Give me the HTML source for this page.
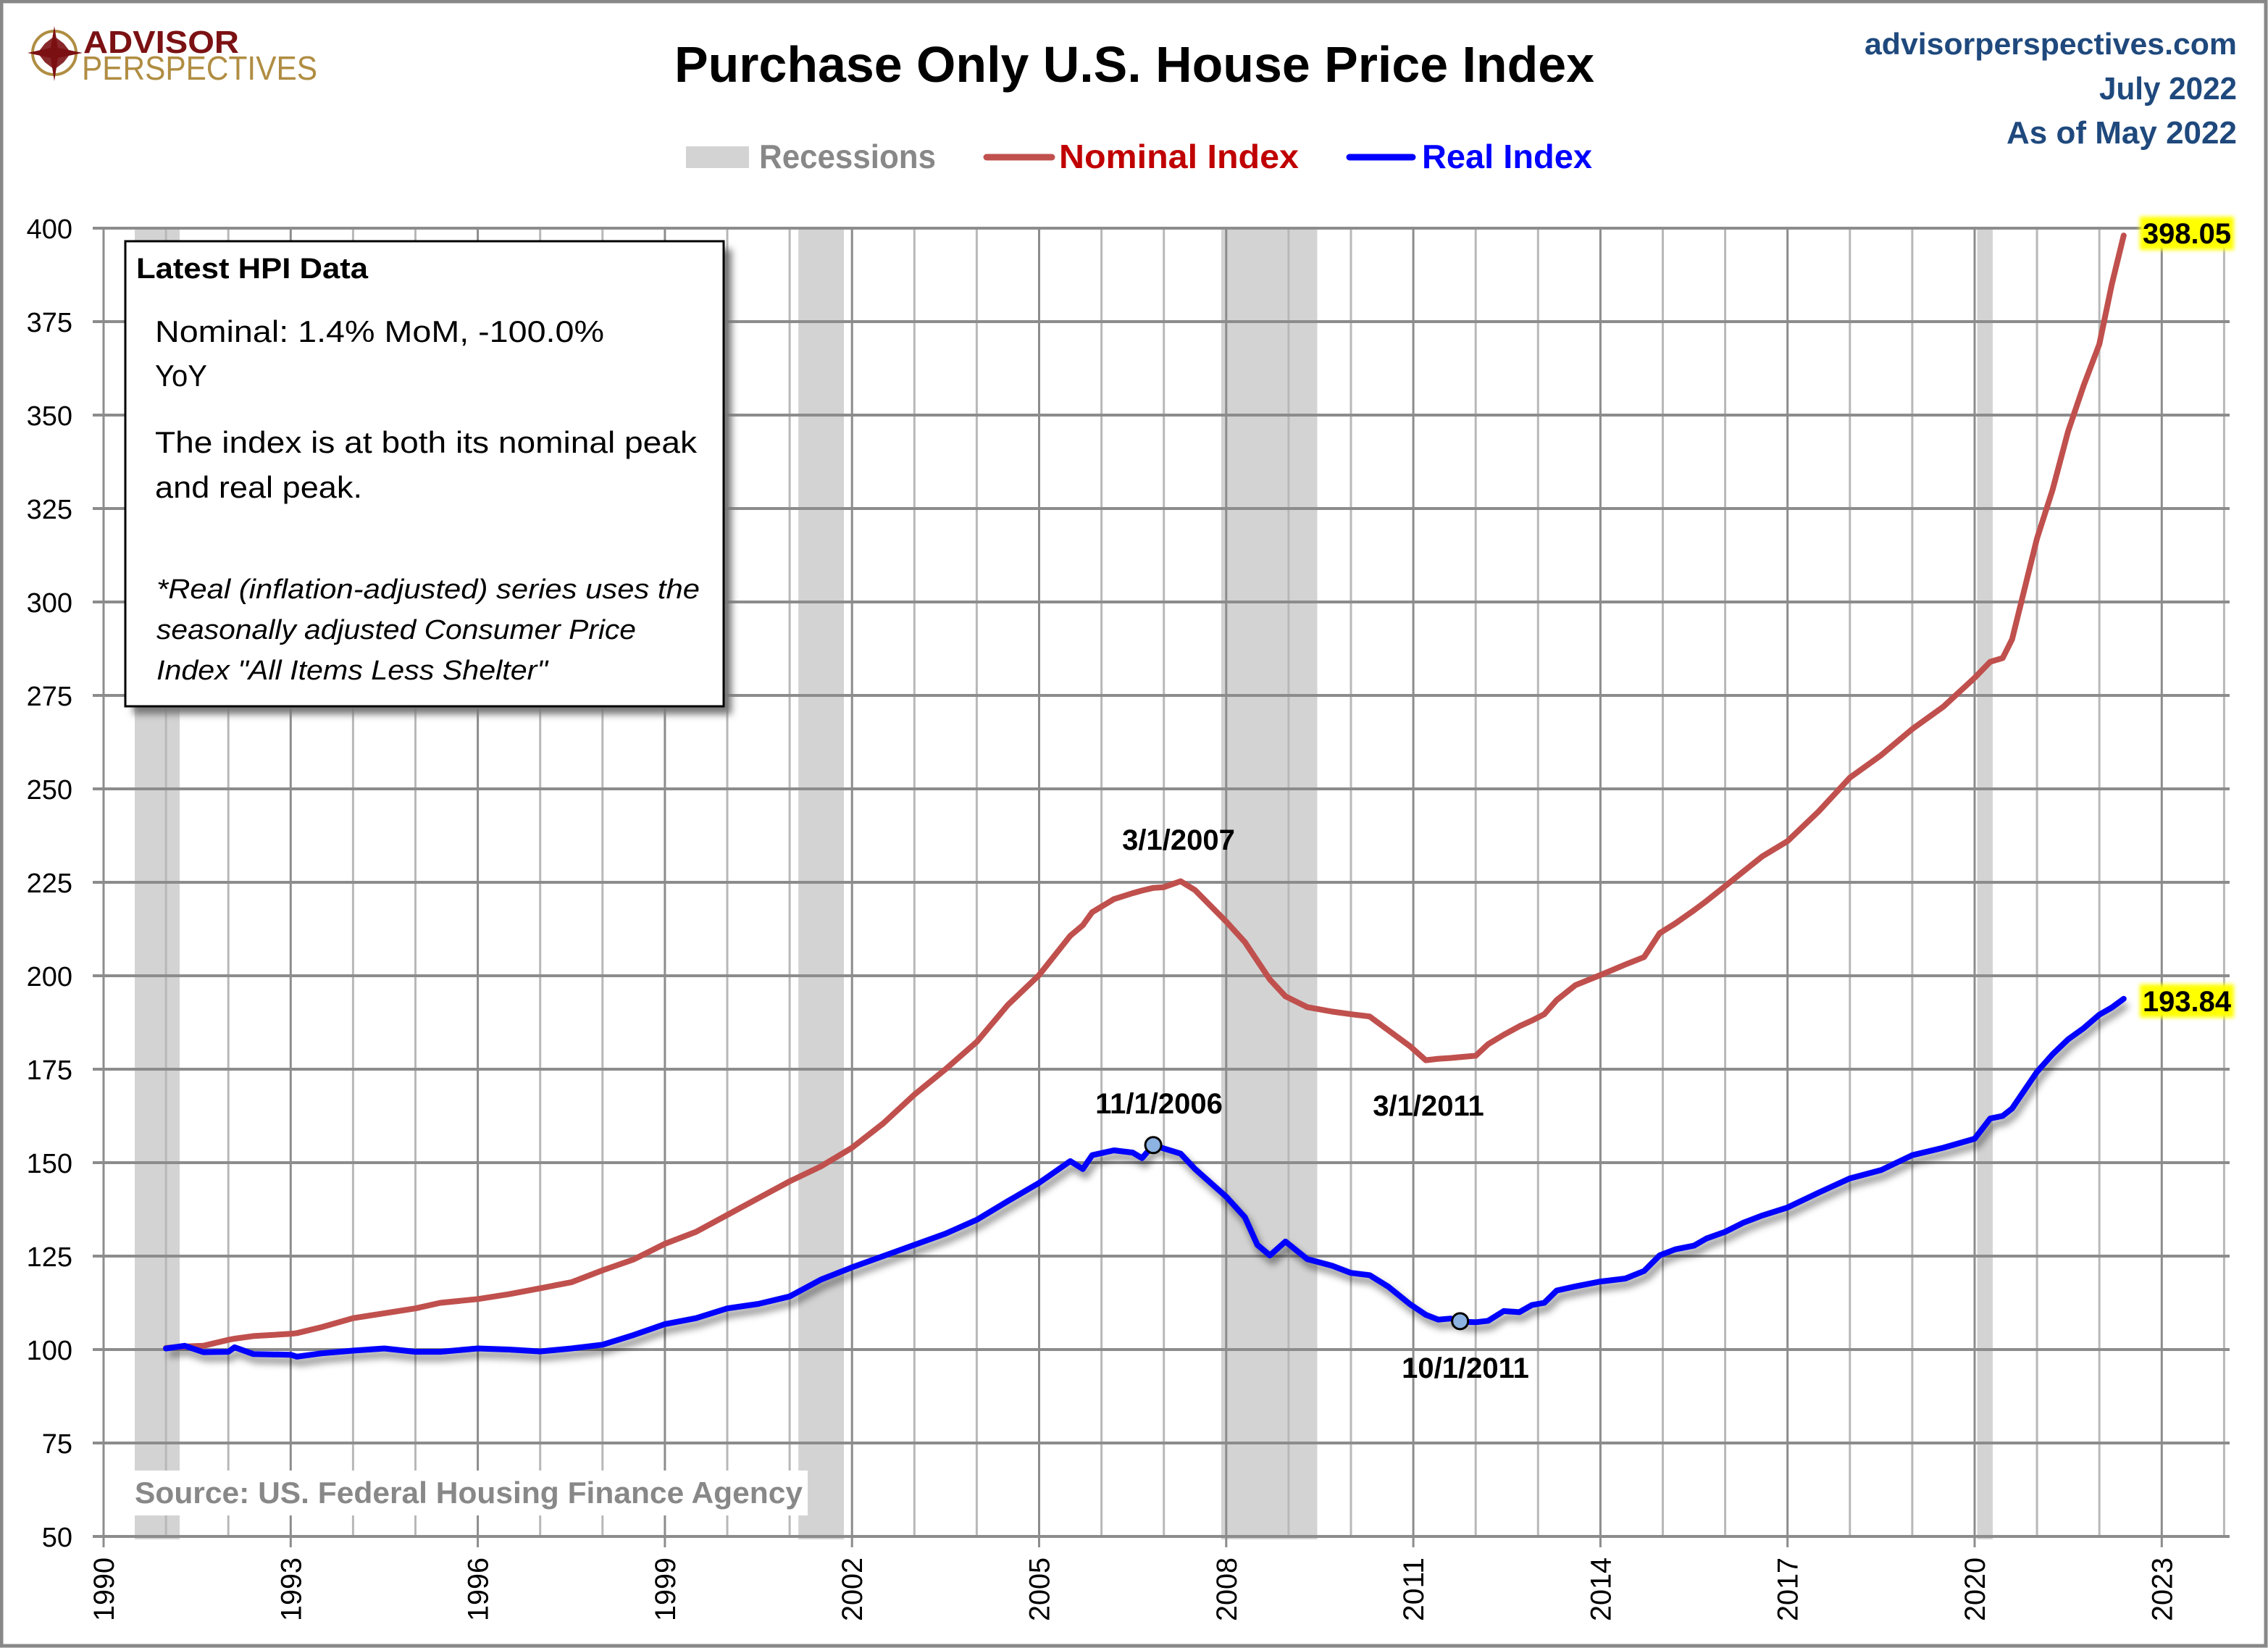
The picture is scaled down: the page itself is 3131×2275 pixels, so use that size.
<!DOCTYPE html>
<html><head><meta charset="utf-8"><style>
html,body{margin:0;padding:0;background:#fff}
svg{display:block}
text{font-family:"Liberation Sans",sans-serif}
</style></head><body>
<svg id="chart" xmlns="http://www.w3.org/2000/svg" width="3131" height="2275" viewBox="0 0 3131 2275">
<defs>
<filter id="sh" x="-10%" y="-10%" width="130%" height="130%"><feGaussianBlur stdDeviation="5"/></filter>
<filter id="yl" x="-10%" y="-30%" width="120%" height="160%"><feGaussianBlur stdDeviation="3"/></filter>
</defs>
<rect x="2" y="2" width="3126" height="2270" fill="#fff" stroke="#888" stroke-width="5"/>
<g id="rec"></g>
<g id="gridv"></g>
<g id="gridh"></g>
<g id="yaxis"></g>
<g id="xaxis"></g>
<g id="series"></g>

<g>
 <circle cx="75" cy="73" r="30" fill="none" stroke="#b08d42" stroke-width="4"/>
 <polygon points="75,36 80,66 114,73 80,80 75,112 70,80 38,73 70,66" fill="#7b1113"/>
 <polygon points="75,50 88,60 98,73 88,86 75,96 62,86 52,73 62,60" fill="#7b1113" opacity="0.9"/>
 <text x="115" y="73" font-size="44" font-weight="bold" fill="#7b1113" textLength="215" lengthAdjust="spacingAndGlyphs">ADVISOR</text>
 <text x="113" y="110" font-size="46" fill="#b08d42" textLength="325" lengthAdjust="spacingAndGlyphs">PERSPECTIVES</text>
</g>
<text x="931" y="113" font-size="70" font-weight="bold" fill="#000" textLength="1270" lengthAdjust="spacingAndGlyphs">Purchase Only U.S. House Price Index</text>
<text x="3088" y="75" text-anchor="end" font-size="42" font-weight="bold" fill="#1f497d" textLength="514" lengthAdjust="spacingAndGlyphs">advisorperspectives.com</text>
<text x="3088" y="137" text-anchor="end" font-size="44" font-weight="bold" fill="#1f497d" textLength="190" lengthAdjust="spacingAndGlyphs">July 2022</text>
<text x="3088" y="198" text-anchor="end" font-size="44" font-weight="bold" fill="#1f497d" textLength="318" lengthAdjust="spacingAndGlyphs">As of May 2022</text>

<g>
 <rect x="947" y="202" width="87" height="30" fill="#d3d3d3"/>
 <text x="1048" y="232" font-size="46" font-weight="bold" fill="#888" textLength="244" lengthAdjust="spacingAndGlyphs">Recessions</text>
 <line x1="1362" y1="217" x2="1452" y2="217" stroke="#c0504d" stroke-width="9" stroke-linecap="round"/>
 <text x="1462" y="232" font-size="46" font-weight="bold" fill="#c00000" textLength="331" lengthAdjust="spacingAndGlyphs">Nominal Index</text>
 <line x1="1863" y1="217" x2="1950" y2="217" stroke="#0000ff" stroke-width="9" stroke-linecap="round"/>
 <text x="1963" y="232" font-size="46" font-weight="bold" fill="#0000ff" textLength="235" lengthAdjust="spacingAndGlyphs">Real Index</text>
</g>

<g>
 <rect x="184" y="344" width="826" height="642" fill="#777" filter="url(#sh)"/>
 <rect x="173" y="333" width="826" height="642" fill="#fff" stroke="#000" stroke-width="3"/>
 <text x="188" y="384" font-size="40" font-weight="bold" textLength="320" lengthAdjust="spacingAndGlyphs">Latest HPI Data</text>
 <text x="214" y="472" font-size="42" textLength="620" lengthAdjust="spacingAndGlyphs">Nominal:  1.4% MoM, -100.0%</text>
 <text x="214" y="533" font-size="42" textLength="72" lengthAdjust="spacingAndGlyphs">YoY</text>
 <text x="214" y="625" font-size="42" textLength="748" lengthAdjust="spacingAndGlyphs">The index is at both its nominal peak</text>
 <text x="214" y="687" font-size="42" textLength="286" lengthAdjust="spacingAndGlyphs">and real peak.</text>
 <text x="216" y="826" font-size="38" font-style="italic" textLength="750" lengthAdjust="spacingAndGlyphs">*Real (inflation-adjusted) series uses the</text>
 <text x="216" y="882" font-size="38" font-style="italic" textLength="662" lengthAdjust="spacingAndGlyphs">seasonally adjusted Consumer Price</text>
 <text x="216" y="938" font-size="38" font-style="italic" textLength="540" lengthAdjust="spacingAndGlyphs">Index "All Items Less Shelter"</text>
</g>

<rect x="184" y="2030" width="931" height="62" fill="#fff"/>
<text x="186" y="2075" font-size="42" font-weight="bold" fill="#888" textLength="922" lengthAdjust="spacingAndGlyphs">Source: US. Federal Housing Finance Agency</text>
<g id="annot"></g>
</svg>
<script>
const NS='http://www.w3.org/2000/svg';
const years=[1991.0,1991.3,1991.6,1992.0,1992.1,1992.4,1993.0,1993.1,1993.5,1994.0,1994.5,1995.0,1995.4,1996.0,1996.5,1997.0,1997.5,1998.0,1998.5,1999.0,1999.5,2000.0,2000.5,2001.0,2001.5,2002.0,2002.5,2003.0,2003.5,2004.0,2004.5,2005.0,2005.5,2005.7,2005.85,2006.2,2006.5,2006.65,2006.83,2007.0,2007.27,2007.5,2008.0,2008.3,2008.5,2008.7,2008.95,2009.3,2009.7,2010.0,2010.3,2010.6,2010.95,2011.2,2011.4,2011.6,2011.79,2012.0,2012.2,2012.45,2012.7,2012.9,2013.1,2013.3,2013.6,2014.0,2014.4,2014.7,2014.95,2015.2,2015.5,2015.7,2016.0,2016.3,2016.6,2017.0,2017.5,2018.0,2018.5,2019.0,2019.5,2020.0,2020.25,2020.45,2020.6,2021.0,2021.25,2021.5,2021.75,2022.0,2022.2,2022.39];
const nominal=[100.4,100.8,101.0,102.6,102.9,103.6,104.2,104.4,106.0,108.4,109.7,111.0,112.5,113.5,114.8,116.4,118.0,121.2,124.1,128.3,131.5,136.0,140.5,145.0,149.0,154.0,160.5,168.2,175.0,182.3,192.2,200.2,210.7,213.5,217.0,220.5,222.1,222.8,223.5,223.7,225.3,222.9,214.5,209.0,204.0,199.0,194.5,191.6,190.4,189.7,189.1,185.4,181.1,177.4,177.8,178.0,178.3,178.6,181.7,184.2,186.5,188.0,189.7,193.5,197.5,200.2,203.0,205.0,211.4,214.0,217.5,220.0,224.0,228.0,232.0,236.0,244.0,253.0,259.0,266.0,272.0,279.7,284.0,285.0,290.0,317.0,330.0,345.7,358.0,369.0,385.0,398.05];
const real=[100.3,101.0,99.3,99.4,100.6,98.8,98.6,98.1,99.0,99.7,100.3,99.4,99.4,100.3,100.0,99.5,100.3,101.3,103.9,106.8,108.4,111.0,112.2,114.2,118.7,122.0,125.0,128.0,131.0,134.7,139.7,144.6,150.4,148.3,152.0,153.3,152.7,151.2,154.7,153.8,152.4,148.3,140.9,135.4,128.0,125.2,128.9,124.2,122.4,120.5,119.9,116.8,112.1,109.3,108.0,108.3,107.4,107.3,107.7,110.3,110.0,111.9,112.5,115.8,116.9,118.2,119.0,121.0,125.2,126.8,127.8,129.7,131.5,134.0,135.9,138.0,142.0,145.8,148.0,152.0,154.0,156.4,161.8,162.5,164.5,174.3,179.0,183.0,186.0,189.6,191.5,193.84];
const recStart=[1990.5,2001.14,2007.92,2020.04];
const recEnd=[1991.22,2001.87,2009.46,2020.29];
const yTicks=[50,75,100,125,150,175,200,225,250,275,300,325,350,375,400];
const xTickYears=[1990,1993,1996,1999,2002,2005,2008,2011,2014,2017,2020,2023];
const annLabels=['3/1/2007','11/1/2006','3/1/2011','10/1/2011'];
const annYears=[2007.17,2006.83,2011.17,2011.75];

const L=128,R=3078,T=315,B=2121;
const xs=y=>143+(y-1990)*86.1;
const ys=v=>B-(v-50)*(B-T)/350;
function mk(tag,attrs,parent){const e=document.createElementNS(NS,tag);for(const k in attrs)e.setAttribute(k,attrs[k]);parent.appendChild(e);return e;}
const gv=document.getElementById('gridv'),gh=document.getElementById('gridh'),rg=document.getElementById('rec');
const ya=document.getElementById('yaxis'),xa=document.getElementById('xaxis'),sg=document.getElementById('series'),an=document.getElementById('annot');

for(let i=0;i<recStart.length;i++){
 const r=mk('rect',{x:xs(recStart[i]),y:T,width:xs(recEnd[i])-xs(recStart[i]),height:B-T+4,fill:'#d3d3d3'},rg);
 
 
}
for(let yr=1990;yr<=2024;yr++){
 const major=(yr-1990)%3===0;
 const l=mk('line',{x1:xs(yr),x2:xs(yr),y1:T,y2:B,stroke:major?'#8c8c8c':'#b8b8b8','stroke-width':3},gv);
 
 
}
yTicks.forEach(v=>{
 const l=mk('line',{x1:L,x2:R,y1:ys(v),y2:ys(v),stroke:'#8c8c8c','stroke-width':4},gh);
 
 
 const t=mk('text',{x:100,y:ys(v)+14,'text-anchor':'end','font-size':38,fill:'#000'},ya);
 t.textContent=String(v);
 
 
});
xTickYears.forEach(yr=>{
 const tk=mk('line',{x1:xs(yr),x2:xs(yr),y1:B,y2:B+15,stroke:'#8c8c8c','stroke-width':3},xa);
 
 
 const t=mk('text',{x:0,y:0,'text-anchor':'end','font-size':40,'font-family':'DejaVu Sans, sans-serif',fill:'#000',transform:`translate(${xs(yr)+14},2150) rotate(-90)`,textLength:88,lengthAdjust:'spacingAndGlyphs'},xa);
 t.textContent=String(yr);
 
 
});
function pathFor(arr){return arr.map((v,i)=>(i?'L':'M')+xs(years[i]).toFixed(1)+' '+ys(v).toFixed(1)).join(' ');}
const shadow=mk('path',{d:pathFor(real),fill:'none',stroke:'#000','stroke-opacity':0.45,'stroke-width':9,filter:'url(#sh)',transform:'translate(4,8)'},sg);


const np=mk('path',{d:pathFor(nominal),fill:'none',stroke:'#c0504d','stroke-width':8,'stroke-linejoin':'round','stroke-linecap':'round'},sg);


const rp=mk('path',{d:pathFor(real),fill:'none',stroke:'#0000ff','stroke-width':8,'stroke-linejoin':'round','stroke-linecap':'round'},sg);



function valAt(arr,yr){for(let i=1;i<years.length;i++){if(years[i]>=yr){const f=(yr-years[i-1])/(years[i]-years[i-1]);return arr[i-1]+f*(arr[i]-arr[i-1]);}}return arr[arr.length-1];}
[1,3].forEach(k=>{
 const c=mk('circle',{cx:xs(annYears[k]),cy:ys(valAt(real,annYears[k])),r:11,fill:'#8db3e2',stroke:'#000','stroke-width':3},an);
 
 
});
const annPos=[[1627,1173],[1600,1537],[1972,1540],[2023,1902]];
annLabels.forEach((s,i)=>{
 const t=mk('text',{x:annPos[i][0],y:annPos[i][1],'text-anchor':'middle','font-size':40,'font-weight':'bold',fill:'#000'},an);
 t.textContent=s;
 
 
});
const lastN=nominal[nominal.length-1],lastR=real[real.length-1];
[[lastN,ys(lastN)-4],[lastR,ys(lastR)+2]].forEach(p=>{
 const bg=mk('rect',{x:2954,y:p[1]-22,width:130,height:46,fill:'#ffff00',filter:'url(#yl)'},an);
 
 
 const t=mk('text',{x:2958,y:p[1]+15,'font-size':40,'font-weight':'bold',fill:'#000',textLength:122,lengthAdjust:'spacingAndGlyphs'},an);
 t.textContent=p[0].toFixed(2);
 
 
});
</script>
</body></html>
